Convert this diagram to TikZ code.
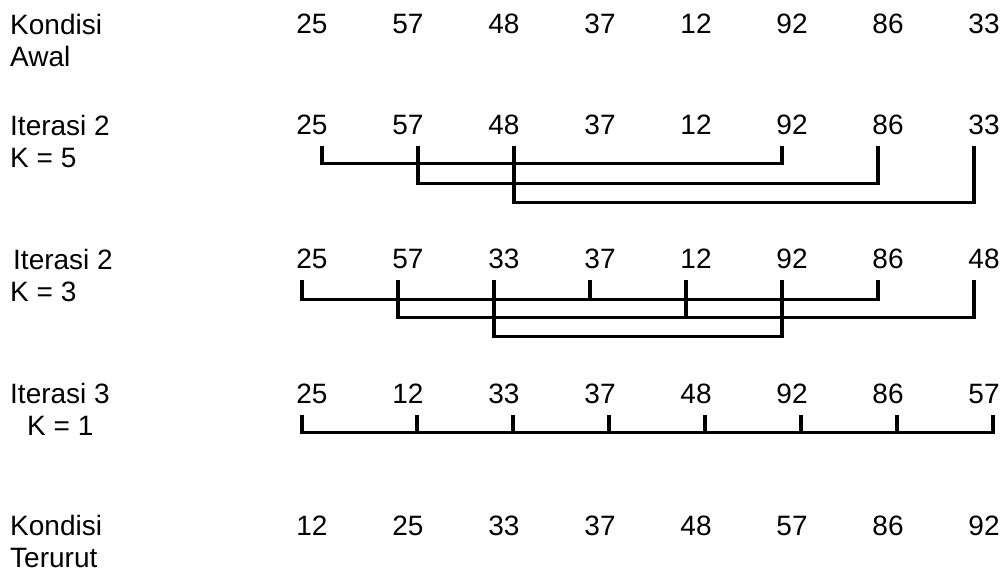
\documentclass[tikz,border=0pt]{standalone}
\usepackage{fontspec}
\setmainfont{Liberation Sans}
\usetikzlibrary{positioning}

\begin{document}
\begin{tikzpicture}[x=1pt, y=-1pt, node distance=96pt, on grid,
      num/.style={inner sep=0pt, text height=20pt, text depth=0pt,
        font=\fontsize{28}{32}\selectfont},
      lbl/.style={inner sep=0pt, anchor=north west, align=left,
        font=\fontsize{28}{32}\selectfont},
      bar/.style={line width=3.2pt, line join=miter}]
    \useasboundingbox (0,0) rectangle (1005,575);

    % kondisi awal
    \node[lbl] (awal) at (10,14) {Kondisi\\Awal};
    \node[num, anchor=base] (a1) at (312,34) {25};
    \node[num, right=of a1] (a2) {57};
    \node[num, right=of a2] (a3) {48};
    \node[num, right=of a3] (a4) {37};
    \node[num, right=of a4] (a5) {12};
    \node[num, right=of a5] (a6) {92};
    \node[num, right=of a6] (a7) {86};
    \node[num, right=of a7] (a8) {33};

    % K = 5
    \node[lbl] (itera) at (10,115) {Iterasi 2\\K = 5};
    \node[num, anchor=base] (b1) at (312,135) {25};
    \node[num, right=of b1] (b2) {57};
    \node[num, right=of b2] (b3) {48};
    \node[num, right=of b3] (b4) {37};
    \node[num, right=of b4] (b5) {12};
    \node[num, right=of b5] (b6) {92};
    \node[num, right=of b6] (b7) {86};
    \node[num, right=of b7] (b8) {33};
    \draw[bar] ([xshift=10pt, yshift=-11pt]b1.south) |- ([xshift=-10pt, yshift=-28pt]b6.south)
      -- ([xshift=-10pt, yshift=-11pt]b6.south);
    \draw[bar] ([xshift=10pt, yshift=-11pt]b2.south) |- ([xshift=-10pt, yshift=-48pt]b7.south)
      -- ([xshift=-10pt, yshift=-11pt]b7.south);
    \draw[bar] ([xshift=10pt, yshift=-11pt]b3.south) |- ([xshift=-10pt, yshift=-67pt]b8.south)
      -- ([xshift=-10pt, yshift=-11pt]b8.south);

    % K = 3
    \node[lbl] (iterb) at (10,249) {\hspace*{3pt}Iterasi 2\\K = 3};
    \node[num, anchor=base] (c1) at (312,269) {25};
    \node[num, right=of c1] (c2) {57};
    \node[num, right=of c2] (c3) {33};
    \node[num, right=of c3] (c4) {37};
    \node[num, right=of c4] (c5) {12};
    \node[num, right=of c5] (c6) {92};
    \node[num, right=of c6] (c7) {86};
    \node[num, right=of c7] (c8) {48};
    \draw[bar] ([xshift=-10pt, yshift=-11pt]c1.south) |- ([xshift=-10pt, yshift=-30pt]c7.south)
      -- ([xshift=-10pt, yshift=-11pt]c7.south);
    \draw[bar] ([xshift=-10pt, yshift=-11pt]c4.south) -- ([xshift=-10pt, yshift=-30pt]c4.south);
    \draw[bar] ([xshift=-10pt, yshift=-11pt]c2.south) |- ([xshift=-10pt, yshift=-48pt]c8.south)
      -- ([xshift=-10pt, yshift=-11pt]c8.south);
    \draw[bar] ([xshift=-10pt, yshift=-11pt]c5.south) -- ([xshift=-10pt, yshift=-48pt]c5.south);
    \draw[bar] ([xshift=-10pt, yshift=-11pt]c3.south) |- ([xshift=-10pt, yshift=-67pt]c6.south)
      -- ([xshift=-10pt, yshift=-11pt]c6.south);

    % K = 1
    \node[lbl] (iterc) at (10,383) {Iterasi 3\\\hspace*{17pt}K = 1};
    \node[num, anchor=base] (d1) at (312,403) {25};
    \node[num, right=of d1] (d2) {12};
    \node[num, right=of d2] (d3) {33};
    \node[num, right=of d3] (d4) {37};
    \node[num, right=of d4] (d5) {48};
    \node[num, right=of d5] (d6) {92};
    \node[num, right=of d6] (d7) {86};
    \node[num, right=of d7] (d8) {57};
    \draw[bar] ([xshift=-10pt, yshift=-12pt]d1.south) |- ([xshift=9pt, yshift=-29pt]d8.south)
      -- ([xshift=9pt, yshift=-12pt]d8.south);
    \foreach \i in {2,...,7}
      \draw[bar] ([xshift=9pt, yshift=-12pt]d\i.south) -- ([xshift=9pt, yshift=-29pt]d\i.south);

    % kondisi terurut
    \node[lbl] (urut) at (10,515) {Kondisi\\Terurut};
    \node[num, anchor=base] (e1) at (312,535) {12};
    \node[num, right=of e1] (e2) {25};
    \node[num, right=of e2] (e3) {33};
    \node[num, right=of e3] (e4) {37};
    \node[num, right=of e4] (e5) {48};
    \node[num, right=of e5] (e6) {57};
    \node[num, right=of e6] (e7) {86};
    \node[num, right=of e7] (e8) {92};
  \end{tikzpicture}
\end{document}
